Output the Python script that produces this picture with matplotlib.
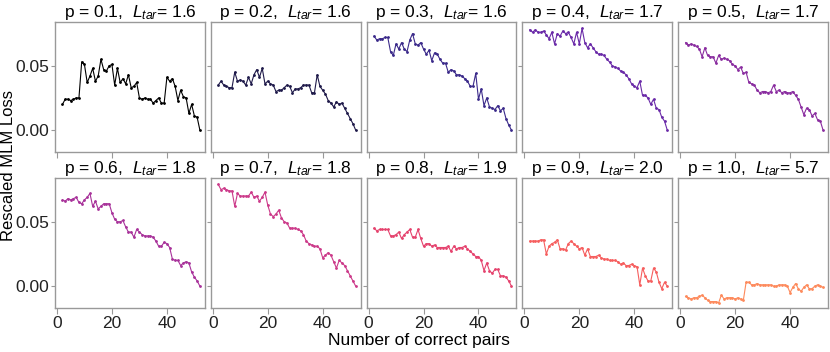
import matplotlib
matplotlib.use("Agg")
import matplotlib.pyplot as plt
import numpy as np

plt.rcParams['font.family'] = ['Liberation Sans', 'DejaVu Sans']
plt.rcParams['mathtext.fontset'] = 'custom'
plt.rcParams['mathtext.rm'] = 'Liberation Sans'
plt.rcParams['mathtext.it'] = 'Liberation Sans:italic'

# number of correct pairs
pairs = np.arange(2, 53)

p_values = [0.1, 0.2, 0.3, 0.4, 0.5, 0.6, 0.7, 0.8, 0.9, 1.0]
l_tar = [1.6, 1.6, 1.6, 1.7, 1.7, 1.8, 1.8, 1.9, 2.0, 5.7]
colors = ['#000000', '#1f1a4a', '#3b2a8a', '#6a2aa8', '#8a2da0',
          '#a8329a', '#cc3a8a', '#e5436e', '#f65e5e', '#fd8a5c']

loss_p01 = [0.020, 0.024, 0.024, 0.023, 0.024, 0.025, 0.025, 0.053, 0.051, 0.037,
            0.042, 0.048, 0.038, 0.042, 0.055, 0.047, 0.046, 0.050, 0.051, 0.035,
            0.048, 0.037, 0.040, 0.036, 0.043, 0.033, 0.034, 0.037, 0.025, 0.024,
            0.025, 0.024, 0.024, 0.021, 0.023, 0.025, 0.021, 0.021, 0.041, 0.038,
            0.040, 0.034, 0.023, 0.031, 0.026, 0.025, 0.013, 0.020, 0.011, 0.010,
            0.000]
loss_p02 = [0.035, 0.038, 0.035, 0.034, 0.033, 0.033, 0.045, 0.038, 0.039, 0.038,
            0.035, 0.041, 0.036, 0.043, 0.047, 0.041, 0.048, 0.036, 0.038, 0.036,
            0.035, 0.030, 0.031, 0.031, 0.033, 0.035, 0.034, 0.029, 0.032, 0.032,
            0.033, 0.035, 0.035, 0.035, 0.029, 0.029, 0.043, 0.034, 0.031, 0.028,
            0.023, 0.021, 0.018, 0.022, 0.020, 0.021, 0.017, 0.013, 0.009, 0.005,
            0.000]
loss_p03 = [0.073, 0.070, 0.071, 0.071, 0.072, 0.072, 0.061, 0.058, 0.067, 0.063,
            0.068, 0.063, 0.061, 0.070, 0.075, 0.067, 0.066, 0.068, 0.063, 0.059,
            0.062, 0.054, 0.060, 0.059, 0.055, 0.052, 0.052, 0.045, 0.047, 0.046,
            0.043, 0.043, 0.042, 0.040, 0.038, 0.034, 0.034, 0.044, 0.024, 0.032,
            0.019, 0.025, 0.018, 0.017, 0.016, 0.019, 0.015, 0.017, 0.009, 0.004,
            0.000]
loss_p04 = [0.078, 0.076, 0.078, 0.076, 0.076, 0.077, 0.074, 0.071, 0.076, 0.067,
            0.075, 0.073, 0.077, 0.075, 0.076, 0.072, 0.067, 0.076, 0.067, 0.079,
            0.068, 0.064, 0.067, 0.064, 0.061, 0.059, 0.059, 0.058, 0.055, 0.053,
            0.050, 0.049, 0.048, 0.046, 0.045, 0.043, 0.040, 0.036, 0.034, 0.033,
            0.038, 0.027, 0.027, 0.025, 0.020, 0.024, 0.017, 0.016, 0.010, 0.007,
            0.000]
loss_p05 = [0.068, 0.066, 0.067, 0.066, 0.065, 0.063, 0.057, 0.064, 0.058, 0.057,
            0.057, 0.052, 0.058, 0.055, 0.056, 0.055, 0.054, 0.051, 0.050, 0.047,
            0.049, 0.044, 0.045, 0.037, 0.036, 0.035, 0.031, 0.029, 0.030, 0.030,
            0.029, 0.030, 0.035, 0.030, 0.031, 0.029, 0.030, 0.029, 0.029, 0.030,
            0.027, 0.024, 0.018, 0.012, 0.017, 0.016, 0.011, 0.013, 0.008, 0.007,
            0.000]
loss_p06 = [0.067, 0.066, 0.068, 0.067, 0.068, 0.069, 0.065, 0.064, 0.067, 0.069,
            0.072, 0.062, 0.066, 0.060, 0.062, 0.064, 0.064, 0.064, 0.057, 0.052,
            0.050, 0.050, 0.051, 0.046, 0.042, 0.042, 0.038, 0.044, 0.042, 0.040,
            0.039, 0.039, 0.039, 0.038, 0.035, 0.031, 0.031, 0.034, 0.033, 0.030,
            0.021, 0.020, 0.020, 0.016, 0.018, 0.019, 0.018, 0.011, 0.007, 0.004,
            0.000]
loss_p07 = [0.079, 0.075, 0.076, 0.075, 0.074, 0.074, 0.062, 0.072, 0.070, 0.070,
            0.070, 0.070, 0.073, 0.069, 0.070, 0.066, 0.069, 0.073, 0.063, 0.056,
            0.054, 0.056, 0.059, 0.053, 0.050, 0.049, 0.045, 0.045, 0.045, 0.044,
            0.043, 0.040, 0.035, 0.033, 0.032, 0.031, 0.031, 0.029, 0.022, 0.024,
            0.026, 0.024, 0.019, 0.014, 0.020, 0.018, 0.016, 0.012, 0.008, 0.004,
            0.000]
loss_p08 = [0.045, 0.043, 0.044, 0.044, 0.044, 0.044, 0.039, 0.039, 0.040, 0.042,
            0.037, 0.040, 0.042, 0.044, 0.038, 0.038, 0.044, 0.037, 0.031, 0.033,
            0.033, 0.031, 0.032, 0.030, 0.030, 0.030, 0.030, 0.031, 0.027, 0.031,
            0.029, 0.030, 0.030, 0.031, 0.029, 0.027, 0.025, 0.023, 0.023, 0.020,
            0.012, 0.018, 0.012, 0.010, 0.013, 0.013, 0.008, 0.008, 0.007, 0.004,
            0.000]
loss_p09 = [0.035, 0.035, 0.035, 0.035, 0.036, 0.036, 0.025, 0.031, 0.033, 0.034,
            0.036, 0.029, 0.029, 0.028, 0.033, 0.035, 0.033, 0.031, 0.029, 0.030,
            0.024, 0.029, 0.023, 0.023, 0.023, 0.024, 0.022, 0.021, 0.021, 0.020,
            0.020, 0.020, 0.019, 0.017, 0.018, 0.016, 0.016, 0.017, 0.016, 0.015,
            0.001, 0.014, 0.008, 0.004, 0.004, 0.014, 0.011, 0.003, -0.002, 0.003,
            0.000]
loss_p10 = [-0.008, -0.009, -0.010, -0.009, -0.009, -0.008, -0.007, -0.009, -0.011, -0.012,
            -0.012, -0.012, -0.013, -0.007, -0.010, -0.009, -0.009, -0.009, -0.010, -0.009,
            -0.010, -0.011, 0.003, 0.003, 0.001, 0.001, 0.002, 0.001, 0.001, 0.001,
            0.001, 0.001, 0.000, 0.000, 0.001, 0.001, 0.001, 0.000, -0.005, -0.001,
            0.002, -0.002, -0.004, -0.001, 0.001, -0.002, -0.002, 0.000, 0.001, 0.000,
            -0.001]

losses = [loss_p01, loss_p02, loss_p03, loss_p04, loss_p05,
          loss_p06, loss_p07, loss_p08, loss_p09, loss_p10]

fig, axes = plt.subplots(2, 5, figsize=(8.3, 3.52), dpi=100, sharex=True, sharey=True)
fig.subplots_adjust(left=0.0663, right=0.9976, top=0.9375, bottom=0.125,
                    wspace=0.04, hspace=0.2)

for ax, p, lt, c, y in zip(axes.flat, p_values, l_tar, colors, losses):
    ax.plot(pairs, y, color=c, lw=0.8, marker='.', markersize=2)
    ax.set_title(f"p = {p:.1f},  $\\mathit{{L}}_{{\\mathit{{tar}}}}$= {lt:.1f}",
                 fontsize=12.5, pad=3)
    for s in ax.spines.values():
        s.set_color('#999999')
        s.set_linewidth(1.0)
    ax.tick_params(colors='#999999', labelcolor='#222222', labelsize=12.5,
                   width=0.8)
    ax.tick_params(axis='y', length=3, pad=1)
    ax.tick_params(axis='x', length=4, pad=2)

axes[0, 0].set_xlim(-0.7, 53.8)
axes[0, 0].set_ylim(-0.017, 0.084)
axes[0, 0].set_xticks([0, 20, 40])
axes[0, 0].set_yticks([0.0, 0.05])
axes[0, 0].set_yticklabels(['0.00', '0.05'])

fig.text(0.505, 0.012, 'Number of correct pairs', ha='center', va='bottom', fontsize=12.5)
fig.text(0.001, 0.53, 'Rescaled MLM Loss', ha='left', va='center',
         rotation=90, fontsize=12)

fig.savefig('out.png', dpi=100)
